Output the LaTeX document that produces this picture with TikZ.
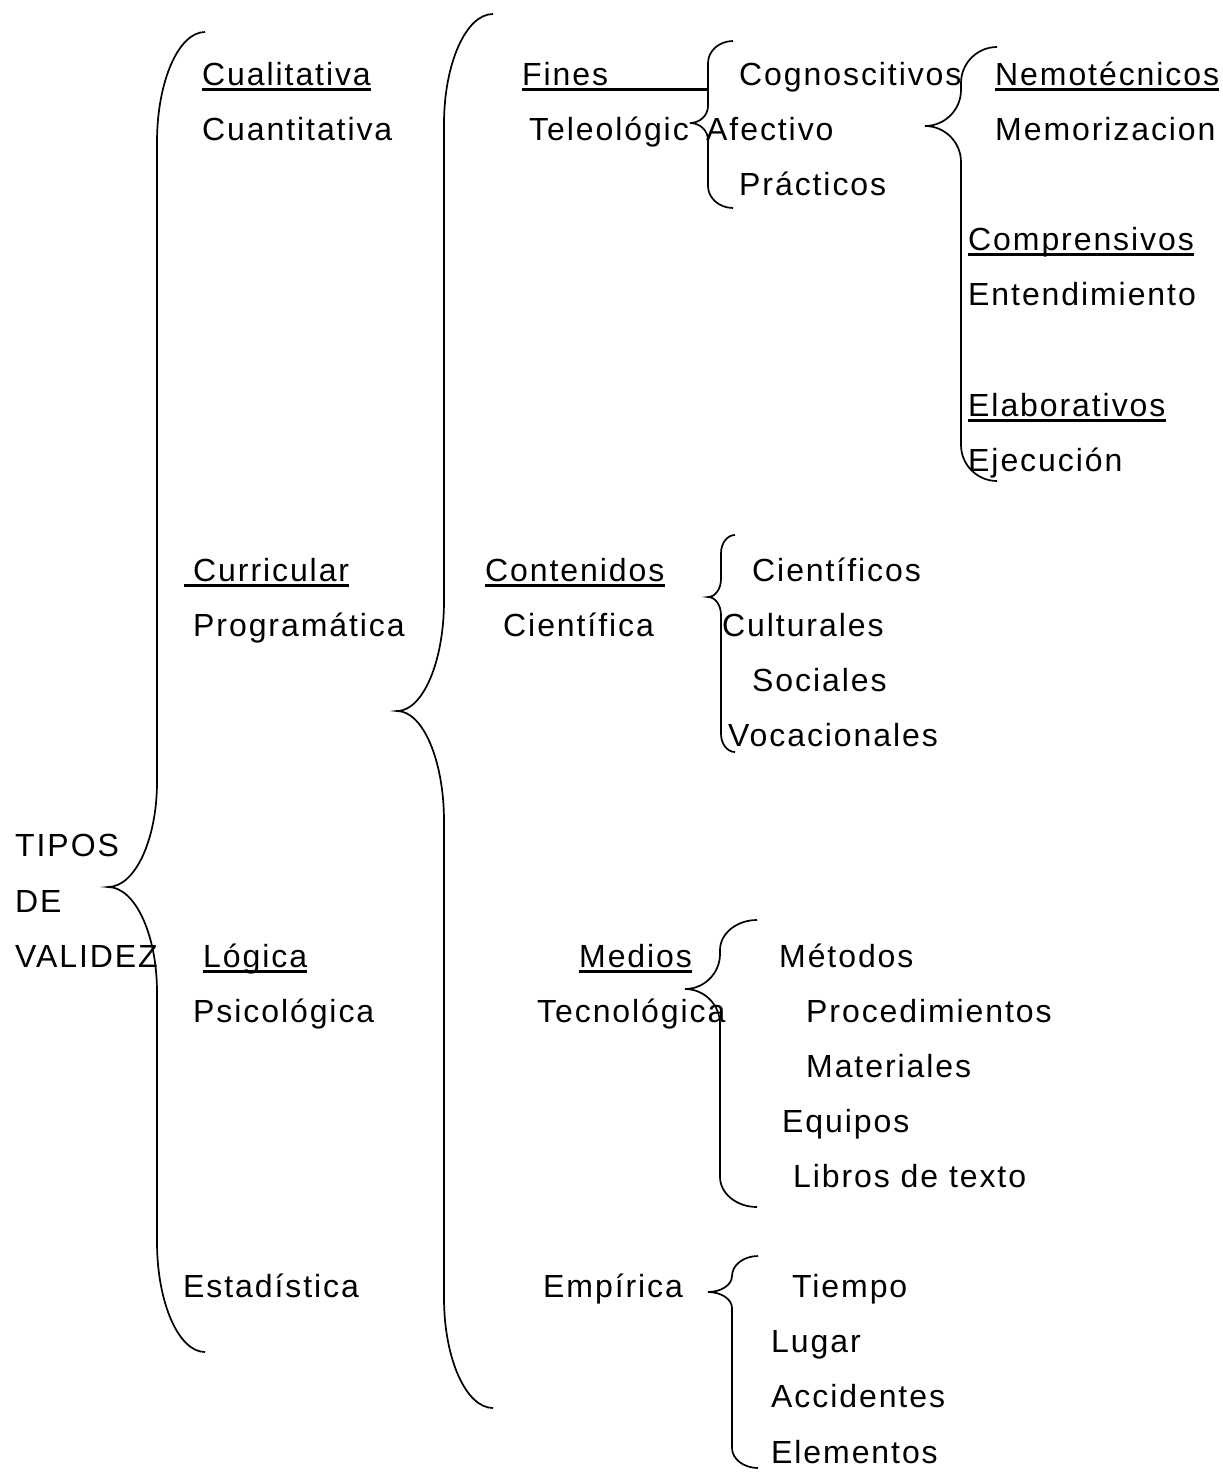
\documentclass[tikz,border=0pt]{standalone}
\usepackage{fontspec}
\setmainfont{Liberation Sans}[LetterSpace=6]
\usetikzlibrary{calc}
\tikzset{
	texto/.style={anchor=base west, inner sep=0pt, font=\fontsize{32}{38}\selectfont},
	llave/.style={line width=1.7pt},
	subraya/.style={line width=2.8pt}
}
% llave: x extremo, x vertical, x punta, y arriba, y punta, y abajo, radio extremo, radio punta
\newcommand{\llave}[8]{%
	\draw[llave] (#1,#4) .. controls +({0.55*(#2-#1)},0) and +(0,{-0.55*#7}) .. (#2,{#4+#7})
		-- (#2,{#5-#8}) .. controls +(0,{0.55*#8}) and +({0.55*(#2-#3)},0) .. (#3,#5)
		.. controls +({0.55*(#2-#3)},0) and +(0,{-0.55*#8}) .. (#2,{#5+#8})
		-- (#2,{#6-#7}) .. controls +(0,{0.55*#7}) and +({0.55*(#2-#1)},0) .. (#1,#6);}
\begin{document}
\begin{tikzpicture}[x=1pt,y=-1pt]
	\useasboundingbox (0,0) rectangle (1223,1472);
	% Texte
	\foreach \n/\x/\y/\t in {
		cual/202/85.5/Cualitativa, cuan/202/140.6/Cuantitativa,
		fines/522/85.5/Fines, teleo/529/140.6/Teleológic,
		cogn/739/85.5/Cognoscitivos, afec/706/140.6/Afectivo, prac/739/195.7/Prácticos,
		nemo/995/85.5/Nemotécnicos, memo/995/140.6/Memorizacion,
		compr/968/250.8/Comprensivos, enten/968/305.9/Entendimiento,
		elab/968/416.1/Elaborativos, ejec/968/471.2/Ejecución,
		curri/193/581.4/Curricular, progr/193/636.5/Programática,
		conte/485/581.4/Contenidos, cienti/503/636.5/Científica,
		cfcos/752/581.4/Científicos, cult/722/636.5/Culturales,
		soc/752/691.6/Sociales, voc/728/746.7/Vocacionales,
		tipos/15/856.9/TIPOS, de/15/912/DE, val/15/967.1/VALIDEZ,
		logi/203/967.1/Lógica, psico/193/1022.2/Psicológica,
		medios/579/967.1/Medios, tecno/537/1022.2/Tecnológica,
		meto/779/967.1/Métodos, proc/806/1022.2/Procedimientos,
		mate/806/1077.3/Materiales, equi/782/1132.4/Equipos,
		libros/793/1187.5/Libros de texto,
		esta/183/1297.7/Estadística, empi/543/1297.7/Empírica,
		tiem/792/1297.7/Tiempo, lugar/771/1352.8/Lugar,
		acci/771/1407.9/Accidentes, elem/771/1463/Elementos}
		\node[texto] (\n) at (\x,\y) {\t};
	% Unterstreichungen
	\foreach \n in {cual,nemo,compr,elab,conte,logi,medios}
		\draw[subraya] ([yshift=-4pt]\n.base west) -- ([yshift=-4pt]\n.base east);
	\draw[subraya] ([xshift=-9pt,yshift=-4pt]curri.base west) -- ([yshift=-4pt]curri.base east);
	\coordinate (finesfin) at (707,89.5);
	\draw[subraya] ([yshift=-4pt]fines.base west) -- (finesfin);
	% Klammern
	\llave{205}{157}{108}{32}{887}{1352}{110}{105}
	\llave{493}{444}{397}{14}{711}{1408}{110}{110}
	\llave{733}{708}{690}{41}{123}{208}{22}{17}
	\llave{997}{961}{925}{47}{126}{481}{36}{36}
	\llave{735}{721}{708}{535}{597}{752}{18}{18}
	\llave{757}{720}{685}{920}{989}{1207}{30}{35}
	\llave{758}{732}{708}{1256}{1292}{1468}{20}{16}
\end{tikzpicture}
\end{document}
